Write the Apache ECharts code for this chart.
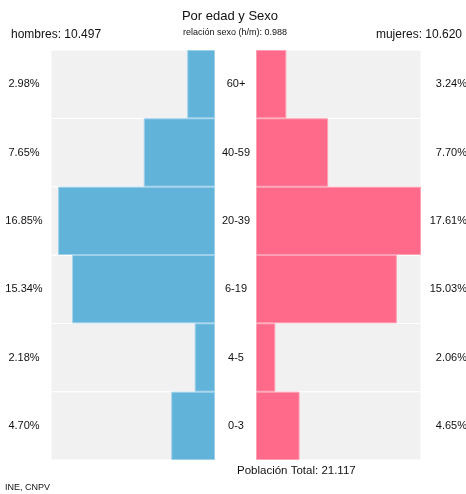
<!DOCTYPE html>
<html><head><meta charset="utf-8">
<script src="https://cdn.jsdelivr.net/npm/echarts@6/dist/echarts.min.js"></script>
<style>html,body{margin:0;padding:0;background:#fff}#c{width:466px;height:494px}</style>
</head><body><div id="c"></div>
<script>
const categories = ['0-3','4-5','6-19','20-39','40-59','60+'];
const hombres = [4.70, 2.18, 15.34, 16.85, 7.65, 2.98];
const mujeres = [4.65, 2.06, 15.03, 17.61, 7.70, 3.24];
const titleText = 'Por edad y Sexo';
const subText = 'relación sexo (h/m): 0.988';
const hombresText = 'hombres: 10.497';
const mujeresText = 'mujeres: 10.620';
const totalText = 'Población Total: 21.117';
const sourceText = 'INE, CNPV';

const FONT = '"Liberation Sans", Arial, Helvetica, sans-serif';
const maxV = Math.max(...hombres, ...mujeres);
const pct = v => v.toFixed(2) + '%';
const chart = echarts.init(document.getElementById('c'));
chart.setOption({
  animation: false,
  graphic: [
    { type: 'text', x: 230, y: 10, style: { text: titleText, font: '13px ' + FONT, fill: '#111', textAlign: 'center' } },
    { type: 'text', x: 235, y: 28, style: { text: subText, font: '9px ' + FONT, fill: '#111', textAlign: 'center' } },
    { type: 'text', x: 11, y: 29, style: { text: hombresText, font: '12px ' + FONT, fill: '#111' } },
    { type: 'text', x: 462, y: 29, style: { text: mujeresText, font: '12px ' + FONT, fill: '#111', textAlign: 'right' } },
    { type: 'text', x: 237, y: 465, style: { text: totalText, font: '11.5px ' + FONT, fill: '#111' } },
    { type: 'text', x: 5, y: 483, style: { text: sourceText, font: '9px ' + FONT, fill: '#111' } }
  ],
  grid: [
    { left: 51, width: 164, top: 50, bottom: 34, containLabel: false, outerBoundsMode: 'none' },
    { left: 256, width: 165, top: 50, bottom: 34, containLabel: false, outerBoundsMode: 'none' }
  ],
  xAxis: [
    { gridIndex: 0, type: 'value', min: 0, max: maxV, inverse: true, show: false },
    { gridIndex: 1, type: 'value', min: 0, max: maxV, show: false }
  ],
  yAxis: [
    { gridIndex: 0, type: 'category', data: hombres.map(pct), position: 'left',
      axisLine: { show: false }, axisTick: { show: false },
      axisLabel: { margin: 27, align: 'center', fontSize: 11, fontFamily: FONT, color: '#111' } },
    { gridIndex: 1, type: 'category', data: categories, position: 'left',
      axisLine: { show: false }, axisTick: { show: false },
      axisLabel: { margin: 20, align: 'center', fontSize: 11, fontFamily: FONT, color: '#111' } },
    { gridIndex: 1, type: 'category', data: mujeres.map(pct), position: 'right',
      axisLine: { show: false }, axisTick: { show: false },
      axisLabel: { margin: 46, align: 'right', fontSize: 11, fontFamily: FONT, color: '#111' } }
  ],
  series: [
    { type: 'bar', xAxisIndex: 0, yAxisIndex: 0, data: hombres, barCategoryGap: '0%',
      showBackground: true,
      backgroundStyle: { color: '#f1f1f1', borderColor: '#fff', borderWidth: 1 },
      itemStyle: { color: '#62b3d9', borderColor: '#9fd0ea', borderWidth: 1 } },
    { type: 'bar', xAxisIndex: 1, yAxisIndex: 1, data: mujeres, barCategoryGap: '0%',
      showBackground: true,
      backgroundStyle: { color: '#f1f1f1', borderColor: '#fff', borderWidth: 1 },
      itemStyle: { color: '#ff6a8a', borderColor: '#ffa0b4', borderWidth: 1 } }
  ]
});
</script></body></html>
